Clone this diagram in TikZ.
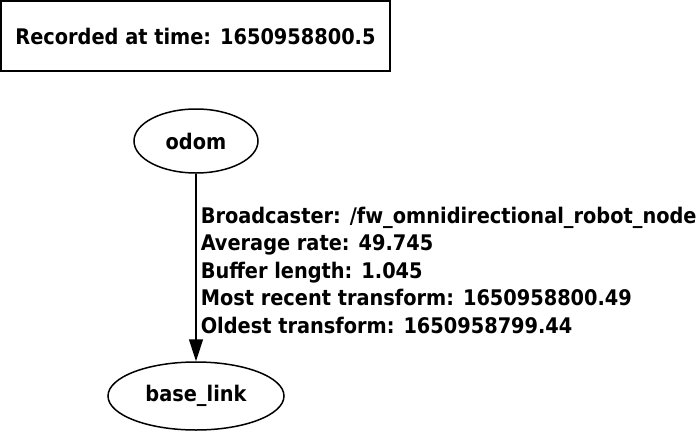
\documentclass[tikz,border=0pt]{standalone}
\usepackage{fontspec}
\setmainfont{DejaVu Sans Condensed}
\usetikzlibrary{arrows.meta,shapes.geometric}
\begin{document}
\begin{tikzpicture}[x=1pt,y=-1pt,
      line width=1.5pt,
      every node/.style={font=\fontsize{21.5}{27.5}\selectfont\bfseries},
      stampbox/.style={draw,minimum width=389pt,minimum height=70pt,inner sep=0pt},
      frameellipse/.style={draw,ellipse,inner sep=0pt},
      infolabel/.style={align=left,anchor=north west,inner sep=0pt}]
      \useasboundingbox (0,0) rectangle (697,432);
      \path (195.5,36) node[stampbox] (stamp) {Recorded at time: 1650958800.5};
      \path (196,141) node[frameellipse,minimum width=124pt,minimum height=64pt] (odom) {odom};
      \path (196,396) node[frameellipse,minimum width=176pt,minimum height=68pt] (baselink) {base\_link};
      \draw[-{Triangle[length=22pt,width=14pt]}] (odom) -- (baselink);
      \path (200,206) node[infolabel] (info) {Broadcaster: /fw\_omnidirectional\_robot\_node\\
       Average rate: 49.745\\
       Buffer length: 1.045\\
       Most recent transform: 1650958800.49\\
       Oldest transform: 1650958799.44};
     \end{tikzpicture}
\end{document}
